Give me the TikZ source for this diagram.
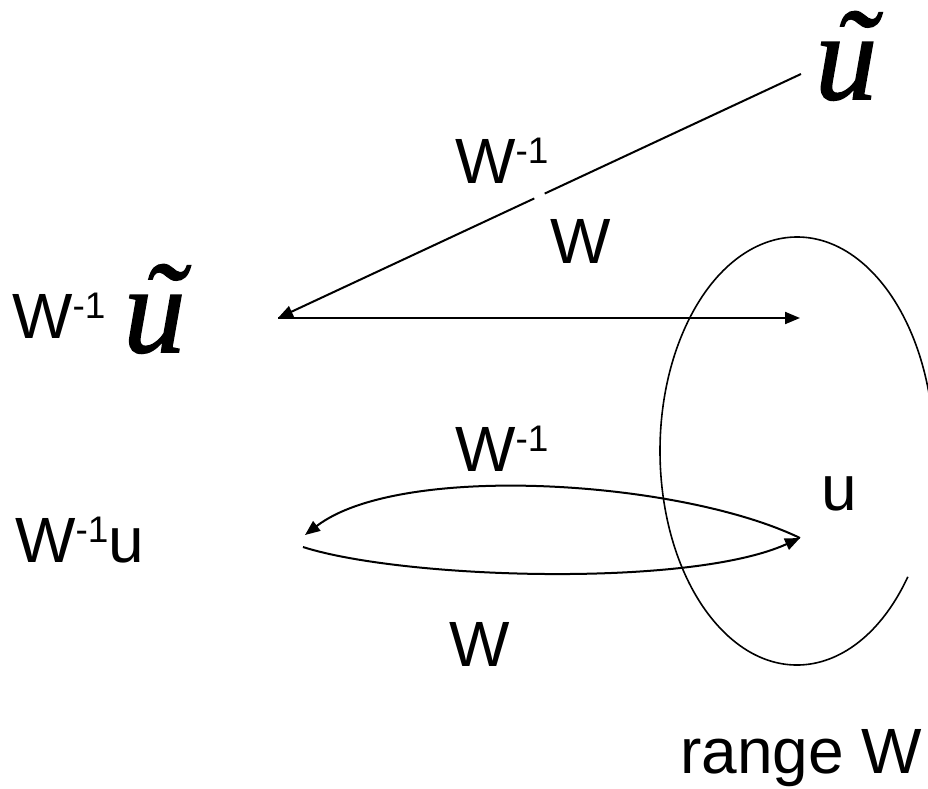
\documentclass[tikz,border=0pt]{standalone}
\usepackage{fontspec}
\setmainfont{Liberation Sans}
\newfontface\tnrit[FakeBold=1.3]{Liberation Serif Italic}
\usepackage{tikz}
\usetikzlibrary{arrows.meta,calc}

\newcommand{\minusone}{\raisebox{20pt}{\fontsize{37}{40}\selectfont -1}}
\newcommand{\tildeu}{{\tnrit\fontsize{124}{126}\selectfont
  \makebox[0pt][l]{\hspace{18pt}\raisebox{4pt}{\char"02DC}}u}}

\tikzset{
  lbl/.style={anchor=base west,inner sep=0pt,font=\fontsize{64}{70}\selectfont},
  mapline/.style={line width=2pt},
  maparrow/.style={mapline,-{Triangle[length=15pt,width=12pt]}},
  rangeline/.style={line width=1.6pt}
}

\begin{document}
\begin{tikzpicture}[x=1pt,y=1pt]
  \useasboundingbox (0,0) rectangle (928,-788);

  % labels
  \node[lbl] (utl) at (815,-99) {\tildeu};
  \node[lbl] (wtop) at (455,-183) {W\minusone};
  \node[lbl] (wmid) at (550,-263) {W};
  \node[lbl] (wleft) at (12,-338) {W\minusone\hspace{18pt}\raisebox{-14pt}{\tildeu}};
  \node[lbl] (wlow) at (455,-471) {W\minusone};
  \node[lbl] (uu) at (821,-510) {u};
  \node[lbl] (wu) at (15,-562) {W\minusone u};
  \node[lbl] (wbot) at (449,-666) {W};
  \node[lbl] (rangew) at (680,-773) {range W};

  % end points
  \coordinate (topend) at (801,-74);
  \coordinate (tipL) at (278,-318);
  \coordinate (tipR) at (800,-318);
  \coordinate (lp) at (305,-535);
  \coordinate (lq) at (303,-547);
  \coordinate (rp) at (800,-538);
  \coordinate (rc) at (797,-451);

  % W^-1 / W between u tilde and its preimage
  \draw[mapline] (topend) -- ($(topend)!0.49!(tipL)$);
  \draw[maparrow] ($(topend)!0.51!(tipL)$) -- (tipL);
  \draw[maparrow] (tipL) -- (tipR);

  % loop W^-1 u <-> u
  \draw[maparrow] (rp) .. controls (680,-480) and (400,-462) .. (lp);
  \draw[maparrow] (lq) .. controls (403,-579) and (690,-588) .. (rp);

  % range W
  \draw[rangeline] ([shift={(-36:137 and 214)}]rc)
    arc[start angle=-36,end angle=-345,x radius=137,y radius=214];
\end{tikzpicture}
\end{document}
